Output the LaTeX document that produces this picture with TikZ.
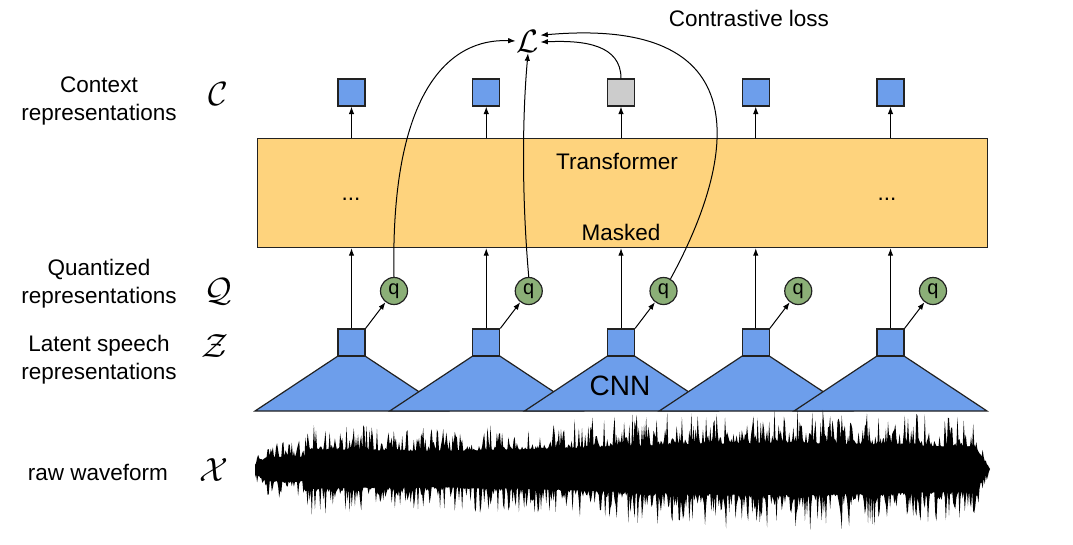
\documentclass[tikz,border=0pt]{standalone}
\usepackage{graphicx}
\usepackage{fontspec}
\setmainfont{Liberation Sans}
\usetikzlibrary{arrows.meta}
\definecolor{tfill}{HTML}{FED37D}
\definecolor{bfill}{HTML}{6D9EEB}
\definecolor{gfill}{HTML}{CCCCCC}
\definecolor{qfill}{HTML}{8BAF77}
\definecolor{edge}{HTML}{222222}
\newcommand{\bigcal}[2]{\scalebox{#1}{$\mathcal{#2}$}}
\begin{document}
\begin{tikzpicture}[x=1pt,y=-1pt,
 arr/.style={-{Latex[length=7.5pt,width=5.5pt]}, line width=1pt, draw=black},
 sq/.style={draw=edge, line width=1.2pt, fill=bfill, minimum size=27pt, inner sep=0pt},
 qn/.style={circle, draw=edge, line width=1.2pt, fill=qfill, minimum size=27pt, inner sep=0pt, font=\fontsize{20}{20}\selectfont},
 lab/.style={align=center, font=\fontsize{22.5}{28}\selectfont, inner sep=0pt},
 cal/.style={font=\fontsize{24.88}{24.88}\selectfont, inner sep=0pt},
 trap/.style={fill=bfill, draw=edge, line width=1.2pt, line join=miter},
 declare function={env(\x)=(\x<305)*(8+14*min(1,(\x-255)/12)) + (\x>=305)*(\x<975)*(40+7*sin((\x-600)*0.5)) + (\x>=975)*40*(990-\x)/15;}
]
\useasboundingbox (0,0) rectangle (1073,544);

% left labels
\node[lab] (lc) at (99,100.5) {Context\\representations};
\node[lab] (lq) at (99,283.5) {Quantized\\representations};
\node[lab] (lz) at (99,359.5) {Latent speech\\representations};
\node[lab] (lx) at (98,472) {raw waveform};
\node[cal] (mc) at (218,94) {\bigcal{1.35}{C}};
\node[cal] (mq) at (218,292) {\bigcal{1.35}{Q}};
\node[cal] (mz) at (215,346) {\bigcal{1.35}{Z}};
\node[cal] (mx) at (214,470) {\bigcal{1.35}{X}};

% transformer
\node[draw=edge, line width=1.2pt, fill=tfill, minimum width=730pt, minimum height=109pt, inner sep=0pt, anchor=north west] (T) at (257,138) {};
\node[lab] (tt) at (617,161) {Transformer};
\node[lab] (tm) at (621,232) {Masked};
\node[lab] (d1) at (351,199) {...};
\node[lab] (d2) at (887,199) {...};

% columns
\foreach \i/\col in {1/bfill,2/bfill,3/gfill,4/bfill,5/bfill}{
  \pgfmathsetmacro\cx{351.5+134.75*(\i-1)}
  \filldraw[trap] (\cx-96.5,411) -- (\cx-13.5,356) -- (\cx+13.5,356) -- (\cx+96.5,411) -- cycle;
  \node[sq] (z\i) at (\cx,342.5) {};
  \node[sq, fill=\col] (c\i) at (\cx,92.5) {};
  \node[qn] (q\i) at (\cx+42.5,291) {q};
  \draw[arr] (c\i |- T.north) -- (c\i.south);
  \draw[arr] (z\i.north) -- (z\i |- T.south);
  \draw[arr] (z\i.north east) -- (q\i);
}
\node[lab, font=\fontsize{28}{28}\selectfont] (cnn) at (620,386) {CNN};

% loss
\node[cal, inner sep=1pt] (L) at (528,41) {\bigcal{1.3}{L}};
\node[lab] (cl) at (749,18) {Contrastive loss};
\draw[arr] (q1.north) .. controls (390,90) and (450,38) .. (L.west);
\draw[arr] (q2.north) .. controls (522,200) and (522,120) .. (L.south);
\draw[arr] (c3.north) .. controls (621,45) and (585,40) .. (L.-5);
\draw[arr] (q3.60) .. controls (730,170) and (770,15) .. (L.25);

% waveform
\pgfmathsetseed{7}
\fill[black] plot[domain=255:990, samples=700] (\x,{469-env(\x)*(0.55+0.75*rnd^3)})
  -- plot[domain=990:255, samples=700] (\x,{469+env(\x)*(0.55+0.75*rnd^3)}) -- cycle;
\end{tikzpicture}
\end{document}
